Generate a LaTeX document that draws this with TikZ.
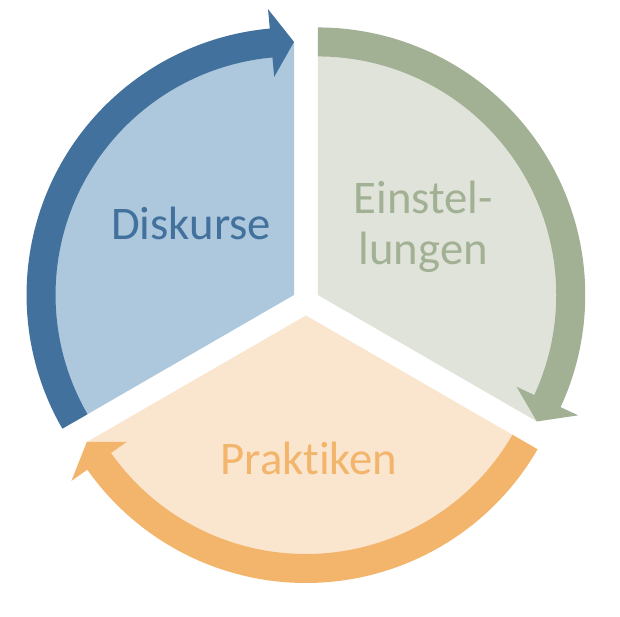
\documentclass[tikz,border=0pt]{standalone}
\usepackage{fontspec}
\setmainfont{Carlito}[Ligatures=NoCommon]
\definecolor{blaudunkel}{RGB}{65,113,156}
\definecolor{blauhell}{RGB}{173,199,220}
\definecolor{gruendunkel}{RGB}{162,176,148}
\definecolor{gruenhell}{RGB}{224,227,218}
\definecolor{orangedunkel}{RGB}{243,181,107}
\definecolor{orangehell}{RGB}{250,229,206}
\begin{document}
\begin{tikzpicture}[x=1pt,y=1pt,
		beschr/.style={font=\fontsize{46.7}{50.7}\selectfont,text=#1,anchor=base,inner sep=0pt}]
		\useasboundingbox (-305.9,-314.2) rectangle (314.1,301.8);
		% Diskurse
		\begin{scope}[shift={(150:13.7)}]
			\fill[blauhell] (0,0) -- (210:253) arc[start angle=210,end angle=90,radius=253] -- cycle;
			\fill[blaudunkel] (210:238.5) arc[start angle=210,end angle=95.2,radius=238.5] -- (95.2:219) -- (90:253) -- (95.2:287) -- (95.2:267.5) arc[start angle=95.2,end angle=210,radius=267.5] -- cycle;
		\end{scope}
		% Einstellungen
		\begin{scope}[shift={(30:13.7)}]
			\fill[gruenhell] (0,0) -- (90:253) arc[start angle=90,end angle=-30,radius=253] -- cycle;
			\fill[gruendunkel] (90:238.5) arc[start angle=90,end angle=-24.8,radius=238.5] -- (-24.8:219) -- (-30:253) -- (-24.8:287) -- (-24.8:267.5) arc[start angle=-24.8,end angle=90,radius=267.5] -- cycle;
		\end{scope}
		% Praktiken
		\begin{scope}[shift={(-90:13.7)}]
			\fill[orangehell] (0,0) -- (-30:253) arc[start angle=-30,end angle=-150,radius=253] -- cycle;
			\fill[orangedunkel] (-30:238.5) arc[start angle=-30,end angle=-144.8,radius=238.5] -- (-144.8:219) -- (-150:253) -- (-144.8:287) -- (-144.8:267.5) arc[start angle=-144.8,end angle=-30,radius=267.5] -- cycle;
		\end{scope}
		\node[beschr=blaudunkel] (Di) at (-114.8,62.2) {Diskurse};
		\node[beschr=gruendunkel,align=center] (Ei) at (117.4,37.2) {Einstel-\\lungen};
		\node[beschr=orangedunkel] (Pr) at (3.0,-172.3) {Praktiken};
	\end{tikzpicture}
\end{document}
